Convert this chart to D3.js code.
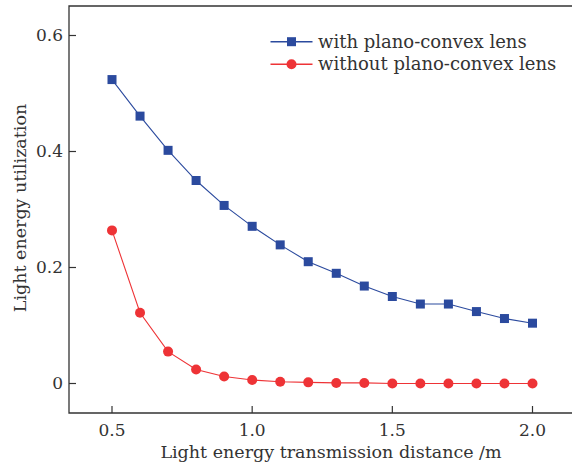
<!DOCTYPE html>
<html><head><meta charset="utf-8">
<script src="https://cdn.jsdelivr.net/npm/d3@7"></script>
<style>body{margin:0;background:#fff}svg{display:block}text{font-family:"DejaVu Serif",serif;fill:#333}</style>
</head><body><svg id="c" width="572" height="465"></svg>
<script>
const distances = [0.5,0.6,0.7,0.8,0.9,1.0,1.1,1.2,1.3,1.4,1.5,1.6,1.7,1.8,1.9,2.0];
const withLens = [0.524,0.461,0.402,0.350,0.307,0.271,0.239,0.210,0.190,0.168,0.150,0.137,0.137,0.124,0.112,0.104];
const withoutLens = [0.264,0.122,0.055,0.024,0.012,0.006,0.003,0.002,0.001,0.001,0.000,0.000,0.000,0.000,0.000,0.000];
const xTicks = [0.5,1.0,1.5,2.0];
const yTicks = [0,0.2,0.4,0.6];
const seriesNames = ["with plano-convex lens","without plano-convex lens"];
const xTitle = "Light energy transmission distance /m";
const yTitle = "Light energy utilization";

const svg = d3.select("#c");
const L=69, T=6, R=572, B=413;
const x = d3.scaleLinear().domain([0.5,2.0]).range([112,532.5]);
const y = d3.scaleLinear().domain([0,0.6]).range([383.5,35.5]);
const blue="#2b4a9e", red="#ee3336";
const axCol="#333";

// frame (top, left, bottom)
svg.append("path").attr("d",`M${R+2},${T}H${L}V${B}H${R+2}`).attr("fill","none").attr("stroke",axCol).attr("stroke-width",1.3);

// ticks
const fmtX = d3.format(".1f");
svg.selectAll(".xt").data(xTicks).join("line").attr("x1",d=>x(d)).attr("x2",d=>x(d)).attr("y1",B).attr("y2",B-7).attr("stroke",axCol).attr("stroke-width",1.2);
svg.selectAll(".xl").data(xTicks).join("text").attr("x",d=>x(d)).attr("y",B+23).attr("text-anchor","middle").attr("font-size",17).text(d=>fmtX(d));
svg.selectAll(".yt").data(yTicks).join("line").attr("x1",L).attr("x2",L+7).attr("y1",d=>y(d)).attr("y2",d=>y(d)).attr("stroke",axCol).attr("stroke-width",1.2);
svg.selectAll(".yl").data(yTicks).join("text").attr("x",L-6).attr("y",d=>y(d)).attr("dy","0.35em").attr("text-anchor","end").attr("font-size",17).text(d=>d===0?"0":d3.format(".1f")(d));

// titles
svg.append("text").attr("x",331).attr("y",458).attr("text-anchor","middle").attr("font-size",17.5).text(xTitle);
svg.append("text").attr("transform","translate(26,208) rotate(-90)").attr("text-anchor","middle").attr("font-size",17.5).text(yTitle);

const line = d3.line().x((d,i)=>x(distances[i])).y(d=>y(d));
svg.append("path").datum(withLens).attr("d",line).attr("fill","none").attr("stroke",blue).attr("stroke-width",1.1);
svg.append("path").datum(withoutLens).attr("d",line).attr("fill","none").attr("stroke",red).attr("stroke-width",1.1);
const s=9;
svg.selectAll(".sq").data(withLens).join("rect").attr("x",(d,i)=>x(distances[i])-s/2).attr("y",d=>y(d)-s/2).attr("width",s).attr("height",s).attr("fill",blue);
svg.selectAll(".ci").data(withoutLens).join("circle").attr("cx",(d,i)=>x(distances[i])).attr("cy",d=>y(d)).attr("r",5).attr("fill",red);

// legend
const lg = [{n:seriesNames[0],c:blue,m:"sq",yy:41.7},{n:seriesNames[1],c:red,m:"ci",yy:64.3}];
lg.forEach(l=>{
  svg.append("line").attr("x1",270.5).attr("x2",312.5).attr("y1",l.yy).attr("y2",l.yy).attr("stroke",l.c).attr("stroke-width",1.4);
  if(l.m==="sq") svg.append("rect").attr("x",291.5-s/2).attr("y",l.yy-s/2).attr("width",s).attr("height",s).attr("fill",l.c);
  else svg.append("circle").attr("cx",291.5).attr("cy",l.yy).attr("r",5).attr("fill",l.c);
  svg.append("text").attr("x",318).attr("y",l.yy).attr("dy","0.33em").attr("font-size",18).text(l.n);
});
</script></body></html>
